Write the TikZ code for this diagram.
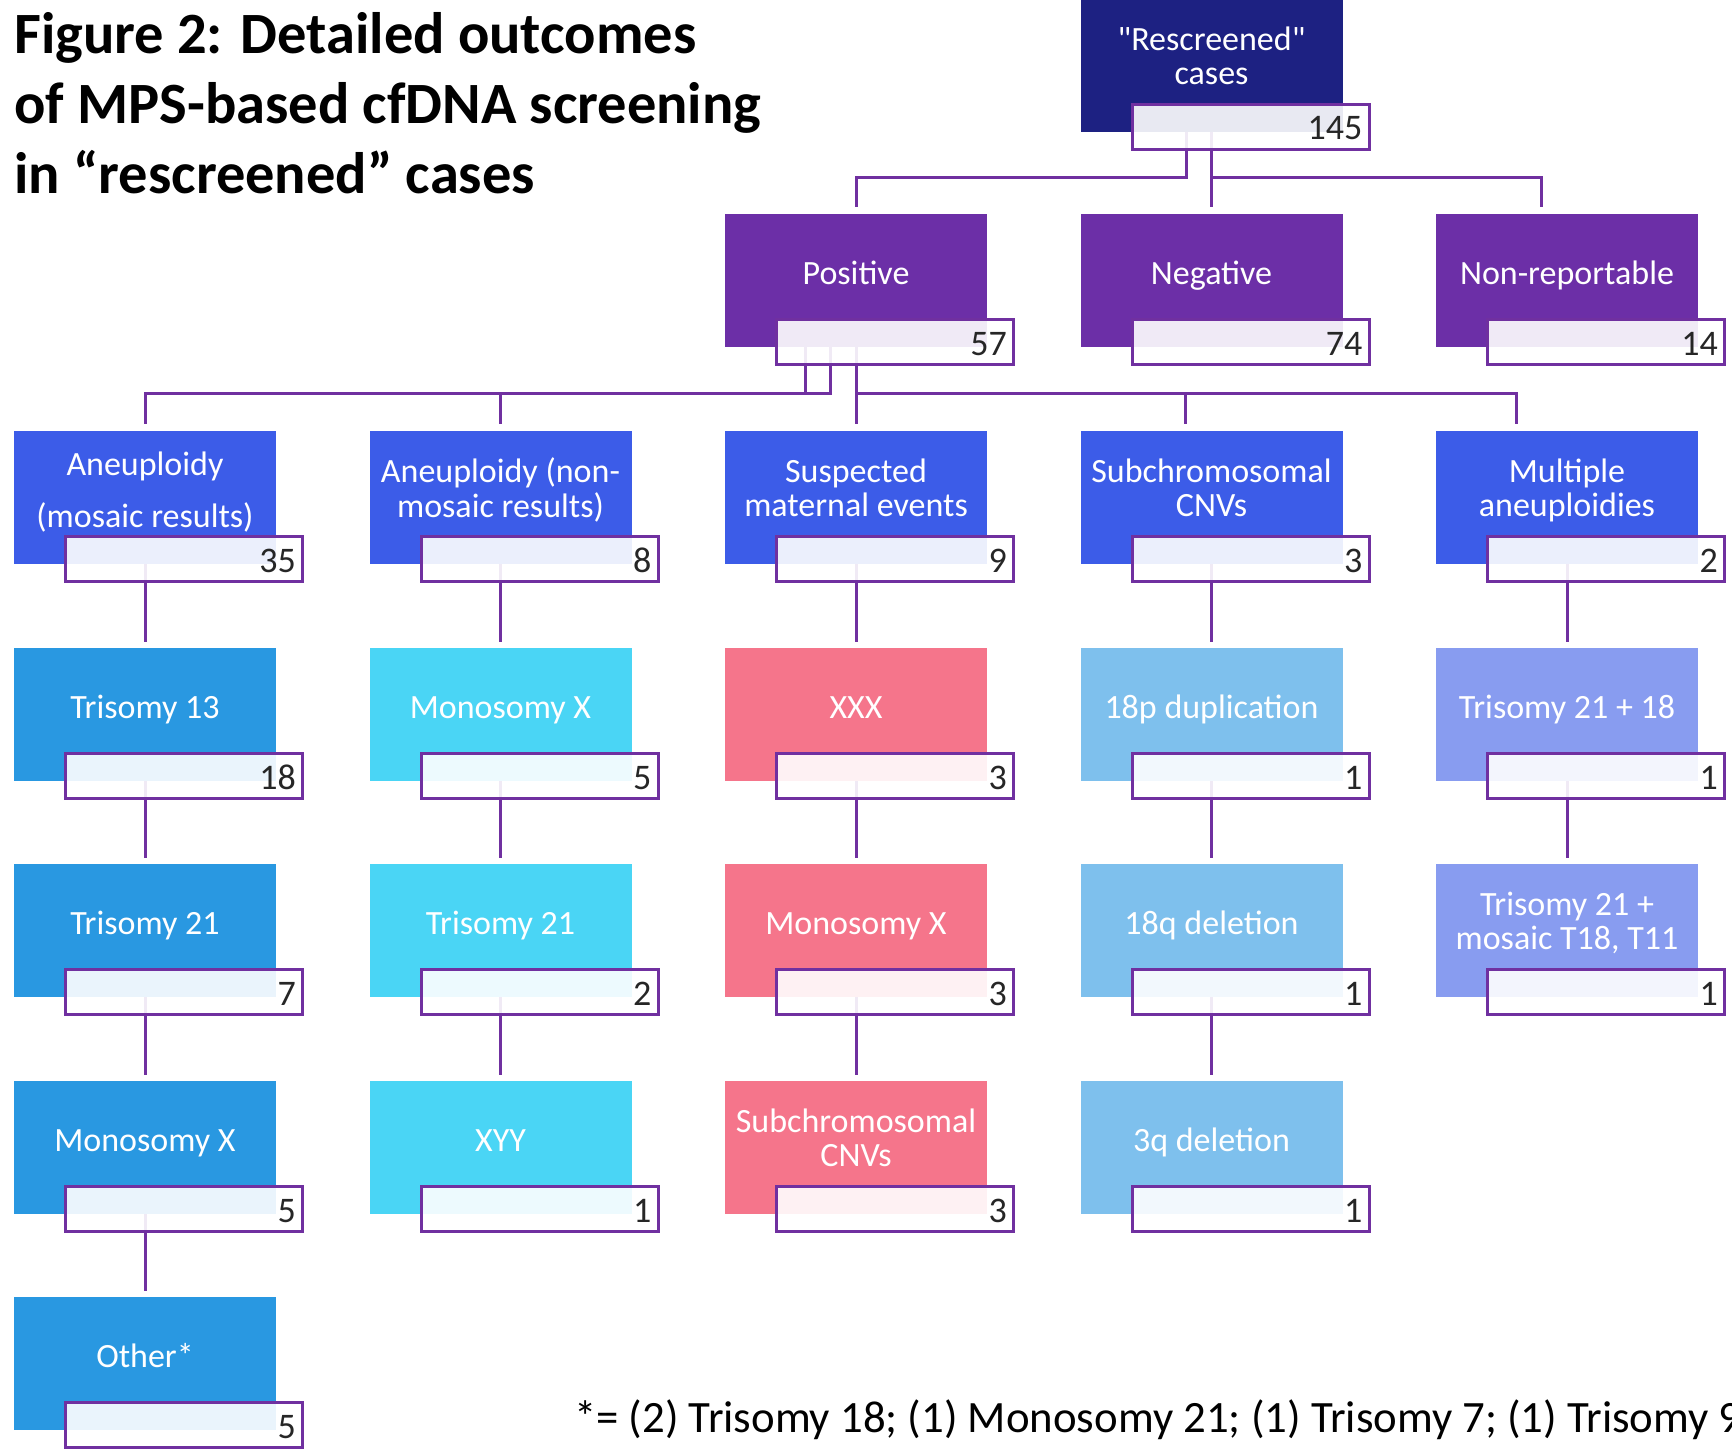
\documentclass[tikz,border=0pt]{standalone}
\usepackage{fontspec}
\setmainfont{Carlito}
\newfontfamily\rawfont{Carlito}
\usetikzlibrary{calc}
\definecolor{navy}{RGB}{29,33,130}
\definecolor{lvlone}{RGB}{108,47,167}
\definecolor{lvltwo}{RGB}{60,92,232}
\definecolor{colA}{RGB}{41,152,225}
\definecolor{colB}{RGB}{74,213,245}
\definecolor{colC}{RGB}{245,117,139}
\definecolor{colD}{RGB}{126,192,237}
\definecolor{colE}{RGB}{136,156,240}
\definecolor{edgec}{RGB}{112,48,160}
\definecolor{numc}{RGB}{38,38,38}
\newcommand\twol[2]{\begin{tabular}[t]{@{}c@{}}#1\\#2\end{tabular}}
\newcommand\sq{{\rawfont"}}
\newcommand\obox[6]{%
  \node[mainbox, fill=#4] (#1) at (#2,#3) {};
  \node[lbl] (#1-t) at ($(#1.north)+(0,#5)$) {#6};
}
\newcommand\ocount[2]{%
  \node[cntbox] (#1-c) at ($(#1.south west)+(51.5,-27.5)$) {};
  \node[num] (#1-n) at ($(#1-c.south east)+(-6.5,-9.5)$) {#2};
}
\begin{document}
\begin{tikzpicture}[x=1pt,y=-1pt,
  mainbox/.style={anchor=north west, minimum width=262pt, minimum height=133pt, inner sep=0pt, outer sep=0pt, draw=none},
  lbl/.style={anchor=base, text=white, inner sep=0pt, font=\fontsize{34}{34}\selectfont},
  cntbox/.style={anchor=north west, minimum width=237pt, minimum height=45pt, inner sep=0pt, outer sep=0pt, draw=edgec, line width=3pt, fill=white, fill opacity=0.9},
  num/.style={anchor=base east, text=numc, inner sep=0pt, font=\fontsize{36}{36}\selectfont},
  conn/.style={draw=edgec, line width=3pt},
  titletext/.style={anchor=base west, inner sep=0pt, text=black, font=\fontsize{58.5}{70}\selectfont\bfseries},
  foot/.style={anchor=base west, inner sep=0pt, text=black, font=\fontsize{44.8}{44.8}\selectfont}
]
\useasboundingbox (0,0) rectangle (1732,1450);
\clip (0,0) rectangle (1732,1450);
\fill[white] (0,0) rectangle (1732,1450);

% ---- boxes ----
\obox{root}{1080.5}{-1}{navy}{52}{\twol{\sq Rescreened\sq}{cases}}
\obox{pos}{725}{214}{lvlone}{70}{Positive}
\obox{neg}{1080.5}{214}{lvlone}{70}{Negative}
\obox{nrp}{1436}{214}{lvlone}{70}{Non-reportable}
\obox{am}{14}{431}{lvltwo}{44}{\begin{tabular}[t]{@{}c@{}}Aneuploidy\\[17.5pt](mosaic results)\end{tabular}}
\obox{an}{369.5}{431}{lvltwo}{51}{\twol{Aneuploidy (non-}{mosaic results)}}
\obox{sm}{725}{431}{lvltwo}{51}{\twol{Suspected}{maternal events}}
\obox{sc}{1080.5}{431}{lvltwo}{51}{\twol{Subchromosomal}{CNVs}}
\obox{ma}{1436}{431}{lvltwo}{51}{\twol{Multiple}{aneuploidies}}
\obox{a3}{14}{648}{colA}{70}{Trisomy 13}
\obox{a4}{14}{864}{colA}{70}{Trisomy 21}
\obox{a5}{14}{1081}{colA}{70}{Monosomy X}
\obox{a6}{14}{1297}{colA}{70}{Other*}
\obox{b3}{369.5}{648}{colB}{70}{Monosomy X}
\obox{b4}{369.5}{864}{colB}{70}{Trisomy 21}
\obox{b5}{369.5}{1081}{colB}{70}{XYY}
\obox{c3}{725}{648}{colC}{70}{XXX}
\obox{c4}{725}{864}{colC}{70}{Monosomy X}
\obox{c5}{725}{1081}{colC}{51}{\twol{Subchromosomal}{CNVs}}
\obox{d3}{1080.5}{648}{colD}{70}{18p duplication}
\obox{d4}{1080.5}{864}{colD}{70}{18q deletion}
\obox{d5}{1080.5}{1081}{colD}{70}{3q deletion}
\obox{e3}{1436}{648}{colE}{70}{Trisomy 21 + 18}
\obox{e4}{1436}{864}{colE}{51}{\twol{Trisomy 21 +}{mosaic T18, T11}}

% ---- connectors ----
\draw[conn] ([xshift=-25pt]root.south) -- ++(0,46) -| ([yshift=7pt]pos.north);
\draw[conn] (root.south) -- ([yshift=7pt]neg.north);
\draw[conn] (root.south) -- ++(0,46) -| ([xshift=-26pt,yshift=7pt]nrp.north);
\draw[conn] ([xshift=-50.5pt]pos.south) -- ++(0,46) -| ([yshift=7pt]am.north);
\draw[conn] ([xshift=-25.5pt]pos.south) -- ++(0,46) -| ([yshift=7pt]an.north);
\draw[conn] (pos.south) -- ([yshift=7pt]sm.north);
\draw[conn] (pos.south) -- ++(0,46) -| ([xshift=-26pt,yshift=7pt]sc.north);
\draw[conn] (pos.south) -- ++(0,46) -| ([xshift=-51pt,yshift=7pt]ma.north);
\foreach \p/\c in {am/a3, a3/a4, a4/a5, a5/a6, an/b3, b3/b4, b4/b5, sm/c3, c3/c4, c4/c5, sc/d3, d3/d4, d4/d5, ma/e3, e3/e4}
  \draw[conn] (\p.south) -- ([yshift=6pt]\c.north);

% ---- count boxes ----
\ocount{root}{145}
\ocount{pos}{57}
\ocount{neg}{74}
\ocount{nrp}{14}
\ocount{am}{35}
\ocount{an}{8}
\ocount{sm}{9}
\ocount{sc}{3}
\ocount{ma}{2}
\ocount{a3}{18}
\ocount{a4}{7}
\ocount{a5}{5}
\ocount{a6}{5}
\ocount{b3}{5}
\ocount{b4}{2}
\ocount{b5}{1}
\ocount{c3}{3}
\ocount{c4}{3}
\ocount{c5}{3}
\ocount{d3}{1}
\ocount{d4}{1}
\ocount{d5}{1}
\ocount{e3}{1}
\ocount{e4}{1}

% ---- texts ----
\node[titletext] (title) at (14,54) {\begin{tabular}[t]{@{}l@{}}Figure 2: Detailed outcomes\\of MPS-based cfDNA screening\\in “rescreened” cases\end{tabular}};
\node[foot] (note) at (574,1432) {*= (2) Trisomy 18; (1) Monosomy 21; (1) Trisomy 7; (1) Trisomy 9};
\end{tikzpicture}
\end{document}
